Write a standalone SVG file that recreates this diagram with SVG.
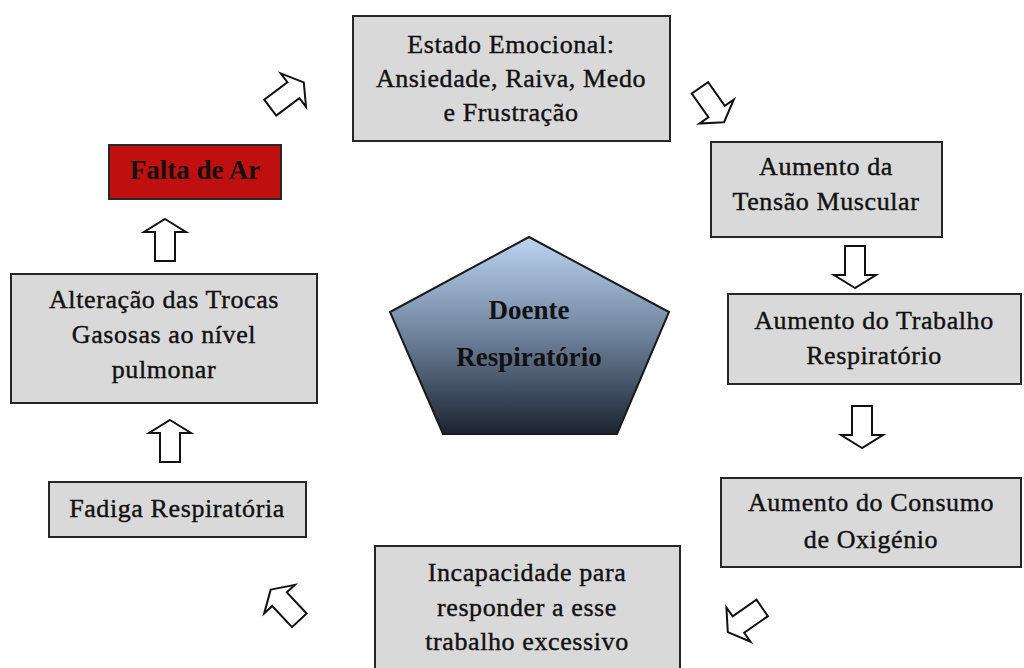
<svg xmlns="http://www.w3.org/2000/svg" width="1024" height="668" viewBox="0 0 1024 668">
<defs>
<linearGradient id="pg" x1="0" y1="0" x2="0" y2="1">
<stop offset="0" stop-color="#bcd4f2"/>
<stop offset="0.5" stop-color="#6e829b"/>
<stop offset="1" stop-color="#1c2431"/>
</linearGradient>
<polygon id="arr" points="0,-21 21,-8 10,-8 10,21 -10,21 -10,-8 -21,-8"/>
</defs>
<style>
.box{fill:#d9d9d9;stroke:#262626;stroke-width:2}
.red{fill:#c00f0f;stroke:#262626;stroke-width:2}
.t{font-family:"Liberation Serif","Times New Roman",serif;font-size:26px;letter-spacing:0.6px;fill:#111;text-anchor:middle;stroke:#111;stroke-width:0.4}
.b{font-weight:bold;stroke:none;font-size:27px;letter-spacing:0}
.arrow{fill:#fff;stroke:#111;stroke-width:2;stroke-linejoin:miter}
</style>
<rect width="1024" height="668" fill="#fff"/>
<g id="connectors">
<use href="#arr" class="arrow" transform="translate(287,95) rotate(53)"/>
<use href="#arr" class="arrow" transform="translate(712,105) rotate(145)"/>
<use href="#arr" class="arrow" transform="translate(855,267)  rotate(180)"/>
<use href="#arr" class="arrow" transform="translate(862,427) rotate(180)"/>
<use href="#arr" class="arrow" transform="translate(745,620) rotate(235)"/>
<use href="#arr" class="arrow" transform="translate(285,605) rotate(-43)"/>
<use href="#arr" class="arrow" transform="translate(170,441)"/>
<use href="#arr" class="arrow" transform="translate(165,240)"/>
</g>
<g id="center">
<polygon points="529,237 669,312 617,434 443,434 390,312" fill="url(#pg)" stroke="#1a1a1a" stroke-width="2"/>
<text class="t b" x="529" y="319">Doente</text>
<text class="t b" x="529" y="366">Respiratório</text>
</g>
<g id="n1">
<rect class="box" x="353" y="16" width="317" height="125"/>
<text class="t" x="511" y="53">Estado Emocional:</text>
<text class="t" x="511" y="87">Ansiedade, Raiva, Medo</text>
<text class="t" x="511" y="121">e Frustração</text>
</g>
<g id="n2">
<rect class="box" x="711" y="142" width="231" height="95"/>
<text class="t" x="826" y="175">Aumento da</text>
<text class="t" x="826" y="210">Tensão Muscular</text>
</g>
<g id="n3">
<rect class="box" x="728" y="294" width="293" height="90"/>
<text class="t" x="874" y="329">Aumento do Trabalho</text>
<text class="t" x="874" y="364">Respiratório</text>
</g>
<g id="n4">
<rect class="box" x="721" y="478" width="300" height="89"/>
<text class="t" x="871" y="511">Aumento do Consumo</text>
<text class="t" x="871" y="548">de Oxigénio</text>
</g>
<g id="n5">
<rect class="box" x="375" y="546" width="305" height="135"/>
<text class="t" x="527" y="581">Incapacidade para</text>
<text class="t" x="527" y="616">responder a esse</text>
<text class="t" x="527" y="650">trabalho excessivo</text>
</g>
<g id="n6">
<rect class="box" x="49" y="482" width="257" height="55"/>
<text class="t" x="177" y="517">Fadiga Respiratória</text>
</g>
<g id="n7">
<rect class="box" x="11" y="274" width="306" height="129"/>
<text class="t" x="164" y="308">Alteração das Trocas</text>
<text class="t" x="164" y="343">Gasosas ao nível</text>
<text class="t" x="164" y="378">pulmonar</text>
</g>
<g id="n8">
<rect class="red" x="109" y="145" width="172" height="54"/>
<text class="t b" x="195" y="179">Falta de Ar</text>
</g>
</svg>
